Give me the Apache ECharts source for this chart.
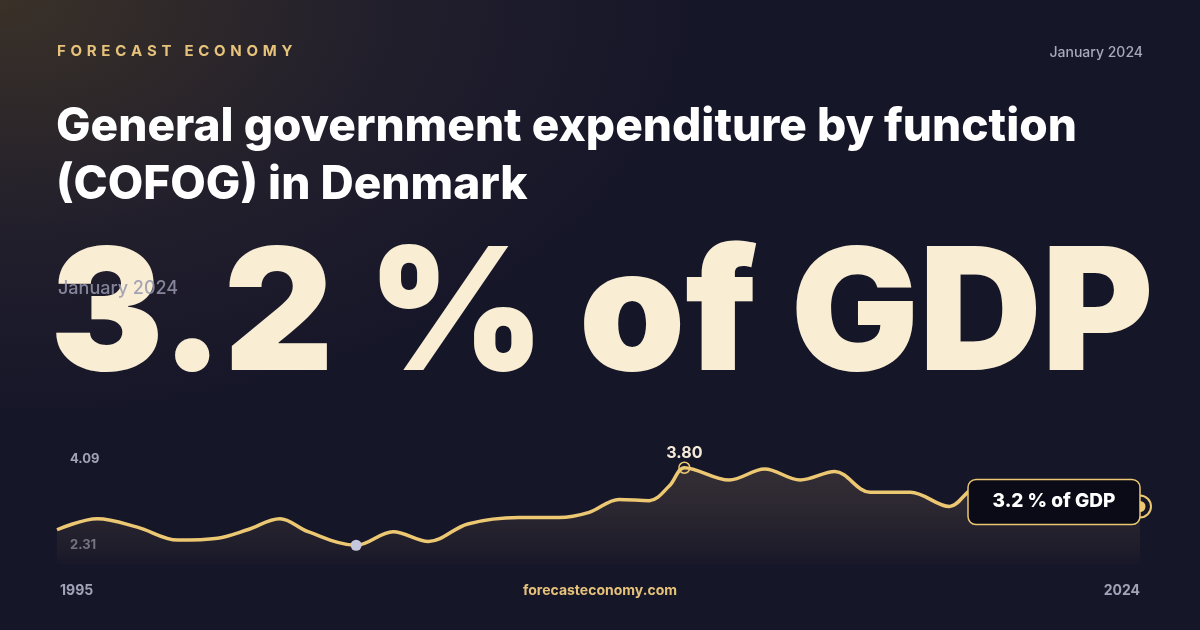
<!DOCTYPE html>
<html><head><meta charset="utf-8">
<script src="https://cdn.jsdelivr.net/npm/echarts@6/dist/echarts.min.js"></script>
<style>
html,body{margin:0;padding:0;width:1200px;height:630px;overflow:hidden;
background:radial-gradient(ellipse 700px 420px at 0px 0px,#3a3128 0%,#221f2c 55%,rgba(22,22,41,0) 100%),#161629;}
#main{width:1200px;height:630px;}
</style></head>
<body><div id="main"></div>
<script>
const years = [1995.0,1996.08,1997.15,1998.23,1999.3,2000.1,2000.97,2001.72,2003.01,2004.0,2004.95,2006.0,2007.37,2008.44,2009.25,2010.05,2010.86,2011.4,2011.8,2013.0,2013.95,2014.9,2015.83,2016.77,2017.85,2018.9,2019.6,2020.5,2021.5,2022.5,2023.3,2024.0];
const values = [2.84,3.01,2.88,2.68,2.71,2.84,3.01,2.81,2.60,2.81,2.66,2.93,3.03,3.03,3.11,3.31,3.29,3.52,3.80,3.61,3.78,3.61,3.74,3.42,3.42,3.20,3.48,3.40,3.30,3.25,3.22,3.20];
const yMin = 2.31, yMax = 4.09;
const headline = '3.2 % of GDP';
const period = 'January 2024';

const chart = echarts.init(document.getElementById('main'));
const seriesData = years.map((y, i) => [y, values[i]]);
const last = seriesData[seriesData.length - 1];
const minIdx = values.indexOf(Math.min(...values));
const maxIdx = values.indexOf(Math.max(...values));
const gold = '#ecc873';
const brand = 'FORECAST ECONOMY'.split('').join('\u2009\u2009');

chart.setOption({
  animation: false,
  grid: {left: 57, right: 60, top: 449, bottom: 66},
  xAxis: {type: 'value', min: 1995, max: 2024, show: false},
  yAxis: {type: 'value', min: yMin, max: yMax, show: false},
  series: [{
    type: 'line', smooth: 0.35, symbol: 'none', data: seriesData,
    lineStyle: {color: gold, width: 3.5},
    areaStyle: {origin: 'start', color: new echarts.graphic.LinearGradient(0, 0, 0, 1, [
      {offset: 0, color: 'rgba(120,100,80,0.45)'}, {offset: 1, color: 'rgba(30,28,40,0.6)'}])},
    markPoint: {
      animation: false,
      data: [
        {coord: seriesData[minIdx], symbol: 'circle', symbolSize: 11, itemStyle: {color: '#c5c8dc'}, label: {show: false}},
        {coord: seriesData[maxIdx], symbol: 'circle', symbolSize: 11, itemStyle: {color: 'transparent', borderColor: gold, borderWidth: 1.5},
          label: {show: true, formatter: values[maxIdx].toFixed(2), position: 'top', distance: 0, color: '#f3ead8', fontSize: 16, fontWeight: 'bold', fontFamily: 'Inter'}},
        {coord: last, symbol: 'circle', symbolSize: 22, itemStyle: {color: 'transparent', borderColor: gold, borderWidth: 2}, label: {show: false}},
        {coord: last, symbol: 'circle', symbolSize: 11, itemStyle: {color: gold}, label: {show: false}}
      ]
    }
  }],
  graphic: [
    {type: 'text', left: 57, top: 44, style: {text: brand, fill: '#e6c27a', font: 'bold 15px Inter'}},
    {type: 'text', right: 57, top: 46, style: {text: period, fill: '#a9a9bd', font: '500 14px Inter'}},
    {type: 'text', left: 56, top: 98, style: {text: 'General government expenditure by function\n(COFOG) in Denmark', fill: '#ffffff', font: '800 46px Inter', lineHeight: 58}},
    {type: 'text', left: 50, top: 234, style: {text: headline, font: '900 170px Inter', fill: '#f9eed4',
      shadowBlur: 30, shadowColor: 'rgba(0,0,0,0.5)', shadowOffsetY: 8}},
    {type: 'text', left: 58, top: 280, style: {text: period, fill: 'rgba(150,150,175,0.85)', font: '500 18px Inter'}},
    {type: 'text', left: 70, top: 453, style: {text: yMax.toFixed(2), fill: '#a3a3b8', font: 'bold 13px Inter'}},
    {type: 'text', left: 70, top: 539, style: {text: yMin.toFixed(2), fill: '#a3a3b8', font: 'bold 13px Inter'}},
    {type: 'text', left: 60, top: 584, style: {text: String(years[0]), fill: '#a3a3b8', font: 'bold 14px Inter'}},
    {type: 'text', right: 60, top: 584, style: {text: String(last[0]), fill: '#a3a3b8', font: 'bold 14px Inter'}},
    {type: 'text', left: 'center', top: 584, style: {text: 'forecasteconomy.com', fill: '#e6c27a', font: 'bold 14px Inter'}}
  ]
});

const p = chart.convertToPixel({gridIndex: 0}, last);
chart.setOption({graphic: [
  {type: 'rect', id: 'box', shape: {x: p[0] - 172, y: p[1] - 27, width: 172, height: 45, r: 8},
    style: {fill: '#0b0b17', stroke: gold, lineWidth: 1.5}, z: 50},
  {type: 'text', id: 'boxText', x: p[0] - 86, y: p[1] - 5, z: 51,
    style: {text: headline, fill: '#ffffff', font: '800 19px Inter', align: 'center', verticalAlign: 'middle'}}
]});
</script></body></html>
